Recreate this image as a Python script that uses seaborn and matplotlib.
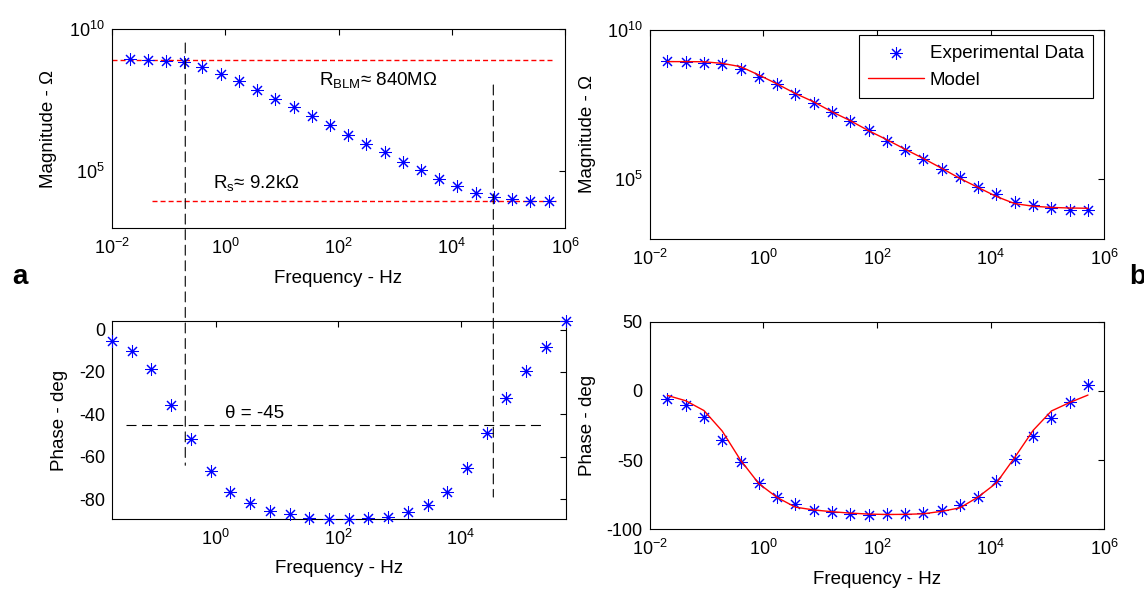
import matplotlib
matplotlib.use("Agg")
import matplotlib.pyplot as plt
from matplotlib.patches import ConnectionPatch
from matplotlib.transforms import blended_transform_factory
from matplotlib.ticker import FixedLocator, NullLocator, LogFormatterSciNotation
import pandas as pd
import seaborn as sns

# Impedance spectrum of the bilayer lipid membrane
freq_hz = [0.0204, 0.0428, 0.0898, 0.188, 0.395, 0.829, 1.74, 3.65, 7.66, 16.1,
           33.7, 70.8, 148, 311, 653, 1370, 2870, 6030, 12600, 26500,
           55700, 117000, 245000, 514000]
mag_exp = [8.8e8, 8.3e8, 7.9e8, 7.2e8, 4.9e8, 2.7e8, 1.55e8, 7.4e7, 3.5e7, 1.8e7,
           9.1e6, 4.3e6, 1.95e6, 9.1e5, 4.7e5, 2.2e5, 1.15e5, 5.5e4, 3.2e4, 1.75e4,
           1.3e4, 1.07e4, 9.5e3, 9.1e3]
phase_exp = [-5.5, -10.2, -18.7, -35.5, -51.6, -66.9, -76.8, -81.6, -85.8, -87.2,
             -88.7, -89.5, -89.3, -89.0, -88.3, -86.0, -82.6, -76.5, -65.2, -49.0,
             -32.4, -19.5, -8.0, 4.2]
mag_model = [8.7e8, 8.7e8, 8.6e8, 7.6e8, 5.9e8, 3.1e8, 1.55e8, 7.4e7, 3.9e7, 1.8e7,
             9.1e6, 4.2e6, 2.1e6, 1.0e6, 4.9e5, 2.3e5, 1.05e5, 5.2e4, 2.6e4, 1.5e4,
             1.23e4, 1.12e4, 1.07e4, 1.05e4]
phase_model = [-3.3, -7.1, -14.2, -29.0, -50.0, -67.0, -77.0, -84.0, -86.0, -87.3,
               -88.3, -89.0, -89.3, -89.2, -88.8, -87.0, -84.5, -76.6, -66.5, -48.0,
               -28.5, -14.5, -8.4, -3.0]

# Annotation values
R_BLM = 840e6
R_S = 9.2e3
THETA = -45
F_LOW = 0.32          # -45 degree crossings of the phase
F_HIGH = 3.4e4
RBLM_SPAN = (1e-2, 6.2e5)
RS_SPAN = (0.05, 6.9e5)
THETA_SPAN = (0.034, 2.5e5)
GUIDE_TOP = (3.3e9, 1.1e8)     # |Z| where the vertical guides start
GUIDE_BOTTOM = (-64, -79)      # phase where they end

df = pd.DataFrame({"freq": freq_hz, "mag": mag_exp, "phase": phase_exp,
                   "mag_fit": mag_model, "phase_fit": phase_model})

sns.set_theme(style="white")
plt.rcParams.update({
    "font.family": ["Liberation Sans", "DejaVu Sans"],
    "mathtext.fontset": "custom",
    "mathtext.rm": "Liberation Sans",
    "mathtext.it": "Liberation Sans:italic",
    "mathtext.bf": "Liberation Sans:bold",
    "axes.unicode_minus": False,
    "axes.edgecolor": "black",
    "axes.linewidth": 0.8,
    "xtick.color": "black",
    "ytick.color": "black",
    "text.color": "black",
    "axes.labelcolor": "black",
})

TICK_FS = 13
LABEL_FS = 13.5
STAR = (8, 2, 0)

W, H = 1144, 589
fig = plt.figure(figsize=(W / 100, H / 100), dpi=100)


def box(l, t, r, b):
    return [l / W, 1 - b / H, (r - l) / W, (b - t) / H]


ax_tl = fig.add_axes(box(112, 29.3, 565, 228.3))
ax_bl = fig.add_axes(box(112, 320.7, 565.6, 519.3))
ax_tr = fig.add_axes(box(649.8, 30, 1104.4, 238.7))
ax_br = fig.add_axes(box(649.8, 321.7, 1104.4, 529.3))


def stars(ax, y, label=None, clip=True):
    sns.scatterplot(data=df, x="freq", y=y, ax=ax, marker=STAR, s=75,
                    color="blue", linewidth=0.75, label=label, zorder=3,
                    clip_on=clip)


def style(ax):
    ax.set_xscale("log")
    ax.tick_params(axis="both", which="major", direction="in", top=True, right=True,
                   length=4, width=0.8, labelsize=TICK_FS)
    ax.tick_params(axis="x", pad=7)
    ax.tick_params(axis="y", pad=5)
    ax.tick_params(which="minor", length=0)
    ax.xaxis.set_minor_locator(NullLocator())
    for s in ax.spines.values():
        s.set_color("black")
        s.set_linewidth(0.8)
    ax.grid(False)


log_ticks_x = [1e-2, 1e0, 1e2, 1e4, 1e6]

# ---- a: magnitude ----
stars(ax_tl, "mag")
style(ax_tl)
ax_tl.set_yscale("log")
ax_tl.set_xlim(1e-2, 1e6)
ax_tl.set_ylim(1e3, 1e10)
ax_tl.xaxis.set_major_locator(FixedLocator(log_ticks_x))
ax_tl.xaxis.set_major_formatter(LogFormatterSciNotation())
ax_tl.yaxis.set_major_locator(FixedLocator([1e5, 1e10]))
ax_tl.yaxis.set_minor_locator(NullLocator())
ax_tl.yaxis.set_major_formatter(LogFormatterSciNotation())
red_kw = dict(color="red", lw=1.0, linestyle=(0, (3.6, 2.2)), zorder=2)
ax_tl.plot(RBLM_SPAN, [R_BLM, R_BLM], **red_kw)
ax_tl.plot(RS_SPAN, [R_S, R_S], **red_kw)
ax_tl.text(45, 1.1e8, r"R$_{\mathrm{BLM}}$≈ 840MΩ", fontsize=LABEL_FS)
ax_tl.text(0.6, 2.6e4, r"R$_{\mathrm{s}}$≈ 9.2kΩ", fontsize=LABEL_FS)
ax_tl.set_xlabel("Frequency - Hz", fontsize=LABEL_FS, va="center")
ax_tl.xaxis.set_label_coords(0.5, -0.25)
ax_tl.set_ylabel("Magnitude - Ω", fontsize=LABEL_FS, va="center")
ax_tl.yaxis.set_label_coords(-0.14, 0.5)

# ---- a: phase ----
stars(ax_bl, "phase", clip=False)
style(ax_bl)
ax_bl.set_xlim(min(freq_hz), max(freq_hz))
ax_bl.set_ylim(min(phase_exp), max(phase_exp))
ax_bl.xaxis.set_major_locator(FixedLocator([1e0, 1e2, 1e4]))
ax_bl.xaxis.set_major_formatter(LogFormatterSciNotation())
ax_bl.yaxis.set_major_locator(FixedLocator([0, -20, -40, -60, -80]))
black_kw = dict(color="black", lw=0.8, linestyle=(0, (9, 5)))
ax_bl.plot(THETA_SPAN, [THETA, THETA], zorder=2, **black_kw)
ax_bl.text(1.4, -41.7, "θ = -45", fontsize=LABEL_FS)
ax_bl.set_xlabel("Frequency - Hz", fontsize=LABEL_FS, va="center")
ax_bl.xaxis.set_label_coords(0.5, -0.247)
ax_bl.set_ylabel("Phase - deg", fontsize=LABEL_FS, va="center")
ax_bl.yaxis.set_label_coords(-0.115, 0.5)

# vertical guides running from the magnitude panel down into the phase panel
top_tf = blended_transform_factory(ax_bl.transData, ax_tl.transData)
for f, ztop, pbot in zip((F_LOW, F_HIGH), GUIDE_TOP, GUIDE_BOTTOM):
    con = ConnectionPatch(xyA=(f, ztop), coordsA=top_tf,
                          xyB=(f, pbot), coordsB=ax_bl.transData,
                          arrowstyle="-", shrinkA=0, shrinkB=0, **black_kw)
    fig.add_artist(con)

# ---- b: magnitude with model ----
stars(ax_tr, "mag", label="Experimental Data")
sns.lineplot(data=df, x="freq", y="mag_fit", ax=ax_tr, color="red", lw=1.0,
             estimator=None, sort=False, label="Model", zorder=4)
style(ax_tr)
ax_tr.set_yscale("log")
ax_tr.set_xlim(1e-2, 1e6)
ax_tr.set_ylim(1e3, 1e10)
ax_tr.xaxis.set_major_locator(FixedLocator(log_ticks_x))
ax_tr.xaxis.set_major_formatter(LogFormatterSciNotation())
ax_tr.yaxis.set_major_locator(FixedLocator([1e5, 1e10]))
ax_tr.yaxis.set_minor_locator(NullLocator())
ax_tr.yaxis.set_major_formatter(LogFormatterSciNotation())
ax_tr.set_xlabel("")
ax_tr.set_ylabel("Magnitude - Ω", fontsize=LABEL_FS, va="center")
ax_tr.yaxis.set_label_coords(-0.138, 0.5)
leg = ax_tr.legend(loc="upper right", bbox_to_anchor=(0.976, 0.976), borderaxespad=0,
                   fontsize=13.5, frameon=True, fancybox=False,
                   edgecolor="black", framealpha=1, handlelength=3.0,
                   handletextpad=0.3, labelspacing=0.55, borderpad=0.5,
                   scatterpoints=1)
leg.get_frame().set_linewidth(0.8)

# ---- b: phase with model ----
stars(ax_br, "phase")
sns.lineplot(data=df, x="freq", y="phase_fit", ax=ax_br, color="red", lw=1.0,
             estimator=None, sort=False, zorder=4)
style(ax_br)
ax_br.set_xlim(1e-2, 1e6)
ax_br.set_ylim(-100, 50)
ax_br.xaxis.set_major_locator(FixedLocator(log_ticks_x))
ax_br.xaxis.set_major_formatter(LogFormatterSciNotation())
ax_br.yaxis.set_major_locator(FixedLocator([-100, -50, 0, 50]))
ax_br.set_xlabel("Frequency - Hz", fontsize=LABEL_FS, va="center")
ax_br.xaxis.set_label_coords(0.5, -0.244)
ax_br.set_ylabel("Phase - deg", fontsize=LABEL_FS, va="center")
ax_br.yaxis.set_label_coords(-0.138, 0.5)

for ax in (ax_tl, ax_bl, ax_br):
    if ax.get_legend() is not None:
        ax.get_legend().remove()

fig.text(12 / W, 1 - 277 / H, "a", fontsize=20, fontweight="bold", va="center")
fig.text(1129 / W, 1 - 277 / H, "b", fontsize=20, fontweight="bold", va="center")

fig.savefig("out.png", dpi=100)
